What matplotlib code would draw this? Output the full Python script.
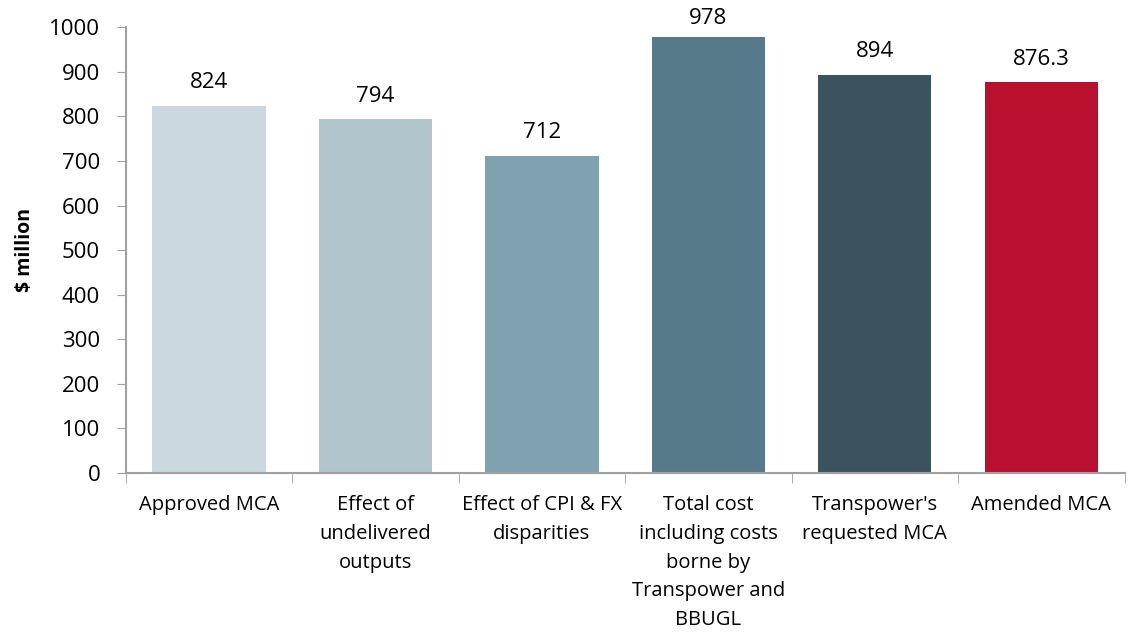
import matplotlib.pyplot as plt
import numpy as np

plt.rcParams['font.family'] = ['Open Sans', 'DejaVu Sans']

categories = ["Approved MCA", "Effect of\nundelivered\noutputs", "Effect of CPI & FX\ndisparities",
              "Total cost\nincluding costs\nborne by\nTranspower and\nBBUGL",
              "Transpower's\nrequested MCA", "Amended MCA"]
values = [824, 794, 712, 978, 894, 876.3]
labels = ["824", "794", "712", "978", "894", "876.3"]
colors = ["#CBD8DE", "#B1C5CC", "#7FA1B0", "#577A8A", "#3A535E", "#B8102E"]

fig = plt.figure(figsize=(11.44, 6.34), dpi=100)
ax = fig.add_axes([0.110, 0.254, 0.873, 0.703])

x = np.arange(len(values))
ax.bar(x, values, width=0.68, color=colors)
for xi, v, lab in zip(x, values, labels):
    # labels near the top get squeezed down like excel does
    ax.text(xi, min(v + 28, 995), lab, ha='center', va='bottom', fontsize=16)

ax.set_xlim(-0.5, len(values) - 0.5)
ax.set_ylim(0, 1000)
ax.set_yticks(range(0, 1001, 100))
ax.tick_params(axis='y', labelsize=16, length=6.5, color='#A0A0A0', direction='out', pad=12)
ax.set_xticks(x)
ax.set_xticklabels(categories, fontsize=14.5, linespacing=1.58)
ax.set_xticks(np.arange(-0.5, len(values)), minor=True)
ax.tick_params(axis='x', which='major', length=0, pad=16)
ax.tick_params(axis='x', which='minor', length=7, color='#A0A0A0')

for s in ['top', 'right']:
    ax.spines[s].set_visible(False)
for s in ['left', 'bottom']:
    ax.spines[s].set_color('#A0A0A0')
    ax.spines[s].set_linewidth(1.5)

ax.set_ylabel("$ million", fontsize=14, fontweight='bold', labelpad=10)

fig.savefig("out.png", dpi=100)
